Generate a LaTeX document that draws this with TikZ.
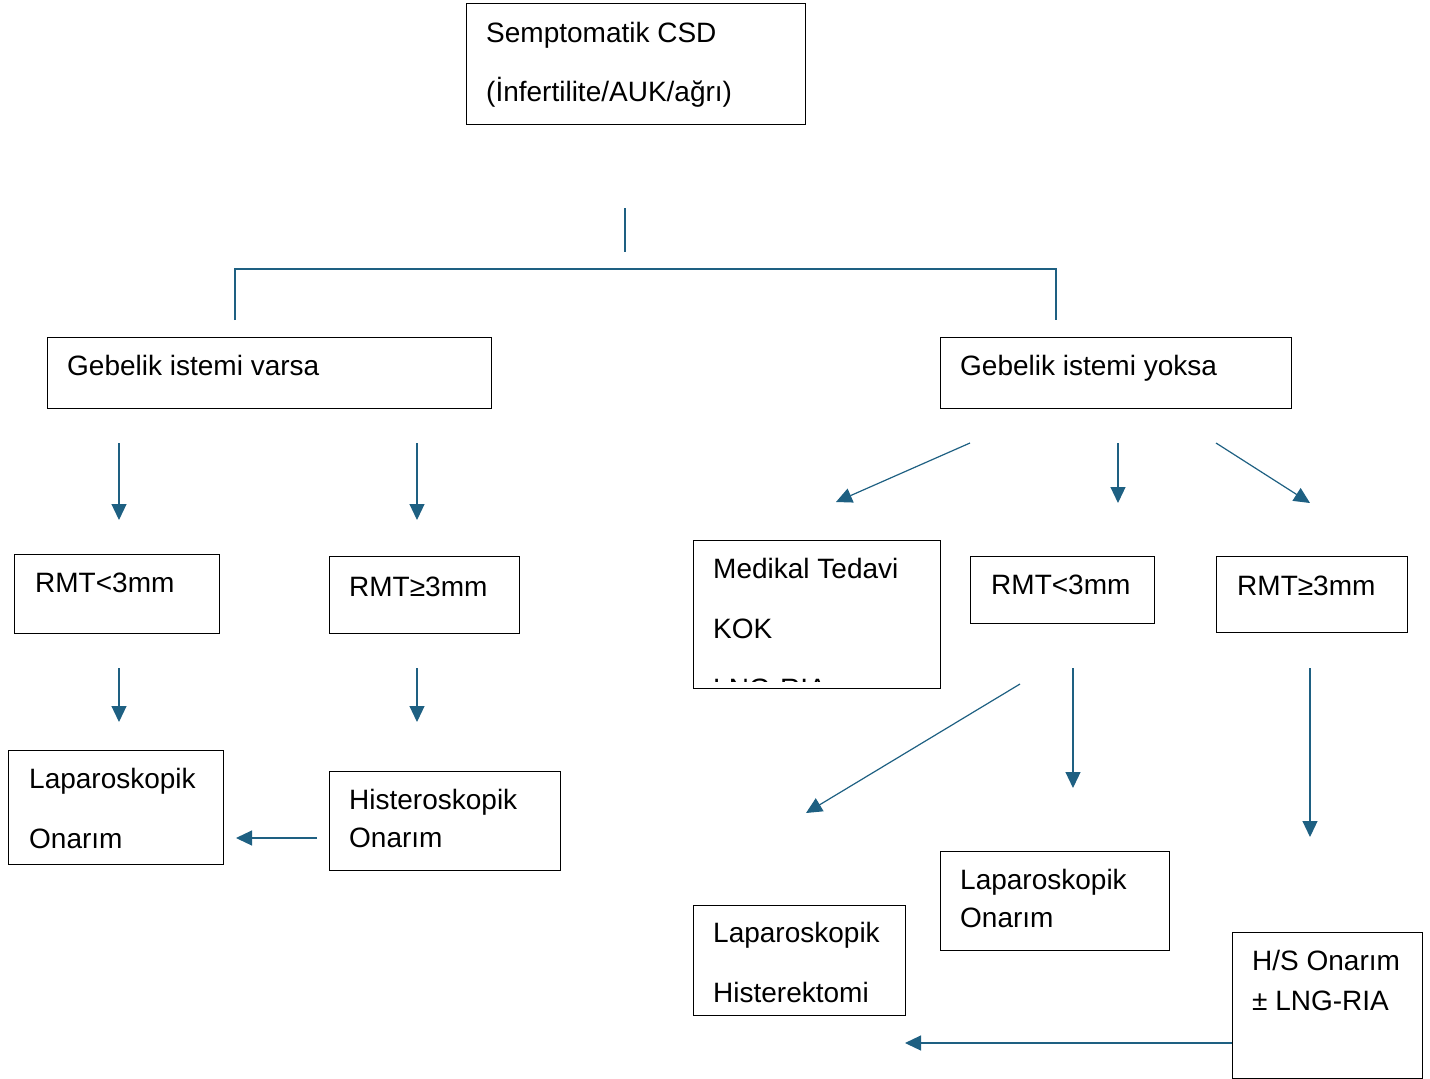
\documentclass[tikz,border=0pt]{standalone}
\usepackage{fontspec}
\setmainfont{Liberation Sans}
\usetikzlibrary{arrows.meta}
\definecolor{conn}{RGB}{30,96,130}
\tikzset{
  box/.style={draw=black, line width=1.1pt, inner sep=0pt, anchor=north west},
  txt/.style={anchor=base west, inner sep=0pt, font=\fontsize{28}{33}\selectfont},
  line/.style={draw=conn, line width=1.2pt},
  arr/.style={line, -{Triangle[length=16pt,width=15pt]}}
}
\newcommand{\boxat}[5]{\node[box, minimum width=#4-#2, minimum height=#5-#3] (#1) at (#2,#3) {};}
\begin{document}
\begin{tikzpicture}[x=1pt,y=-1pt]
\useasboundingbox (0,0) rectangle (1430,1079);
% boxes
\boxat{top}{466}{3}{805}{124}
\boxat{gv}{47}{337}{491}{408}
\boxat{gy}{940}{337}{1291}{408}
\boxat{rl}{14}{554}{219}{633}
\boxat{rr}{329}{556}{519}{633}
\boxat{lo}{8}{750}{223}{864}
\boxat{ho}{329}{771}{560}{870}
\boxat{med}{693}{540}{940}{688}
\boxat{rl2}{970}{556}{1154}{623}
\boxat{rr2}{1216}{556}{1407}{632}
\boxat{lo2}{940}{851}{1169}{950}
\boxat{lh}{693}{905}{905}{1015}
\boxat{hs}{1232}{932}{1422}{1078}
% texts
\node[txt] (t1) at (486,42) {Semptomatik CSD};
\node[txt] (t2) at (486,101) {(İnfertilite/AUK/ağrı)};
\node[txt] (t3) at (67,375) {Gebelik istemi varsa};
\node[txt] (t4) at (960,375) {Gebelik istemi yoksa};
\node[txt] (t5) at (35,592) {RMT<3mm};
\node[txt] (t6) at (349,596) {RMT≥3mm};
\node[txt] (t7) at (29,788) {Laparoskopik};
\node[txt] (t8) at (29,848) {Onarım};
\node[txt] (t9) at (349,809) {Histeroskopik};
\node[txt] (t10) at (349,847) {Onarım};
\node[txt] (t11) at (713,578) {Medikal Tedavi};
\node[txt] (t12) at (713,638) {KOK};
\begin{scope}
\clip (693,540) rectangle (940,681);
\node[txt] (t13) at (713,698) {LNG-RIA};
\end{scope}
\node[txt] (t14) at (991,594) {RMT<3mm};
\node[txt] (t15) at (1237,595) {RMT≥3mm};
\node[txt] (t16) at (960,889) {Laparoskopik};
\node[txt] (t17) at (960,927) {Onarım};
\node[txt] (t18) at (713,942) {Laparoskopik};
\node[txt] (t19) at (713,1002) {Histerektomi};
\node[txt] (t20) at (1252,970) {H/S Onarım};
\node[txt] (t21) at (1252,1010) {± LNG-RIA};
% coordinates
\coordinate (v1) at (625,208); \coordinate (v2) at (625,252);
\coordinate (b1) at (235,320); \coordinate (b2) at (235,269);
\coordinate (b3) at (1056,269); \coordinate (b4) at (1056,320);
\coordinate (a1s) at (119,443); \coordinate (a1e) at (119,520);
\coordinate (a2s) at (417,443); \coordinate (a2e) at (417,520);
\coordinate (a3s) at (119,668); \coordinate (a3e) at (119,722);
\coordinate (a4s) at (417,668); \coordinate (a4e) at (417,722);
\coordinate (a5s) at (317,838); \coordinate (a5e) at (236,838);
\coordinate (a6s) at (970,443); \coordinate (a6e) at (836,502);
\coordinate (a7s) at (1118,443); \coordinate (a7e) at (1118,503);
\coordinate (a8s) at (1216,443); \coordinate (a8e) at (1310,503);
\coordinate (a9s) at (1020,684); \coordinate (a9e) at (806,813);
\coordinate (a10s) at (1073,668); \coordinate (a10e) at (1073,788);
\coordinate (a11s) at (1310,668); \coordinate (a11e) at (1310,837);
\coordinate (a12s) at (1232,1043); \coordinate (a12e) at (905,1043);
% connectors
\draw[line] (v1) -- (v2);
\draw[line] (b1) -- (b2) -- (b3) -- (b4);
\foreach \i in {1,...,12} {\draw[arr] (a\i s) -- (a\i e);}
\end{tikzpicture}
\end{document}
